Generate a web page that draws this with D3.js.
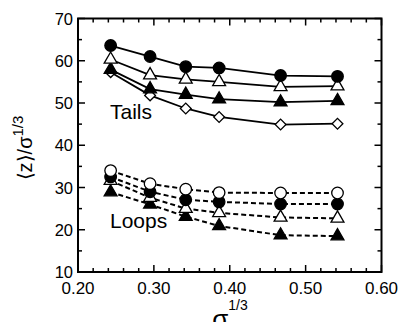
<!DOCTYPE html>
<html><head><meta charset="utf-8">
<script src="https://cdn.jsdelivr.net/npm/d3@7"></script>
<style>body{margin:0;background:#fff}svg{display:block}text{font-family:"Liberation Sans",Arial,sans-serif;fill:#000}</style>
</head><body><svg id="c" width="400" height="322"></svg>
<script>
const sigma13 = [0.243, 0.295, 0.342, 0.386, 0.467, 0.542];
const tailsFilledCircle = [63.6, 61.0, 58.6, 58.3, 56.5, 56.3];
const tailsOpenTriangle = [60.3, 56.6, 55.6, 55.0, 53.8, 54.0];
const tailsFilledTriangle = [57.9, 53.3, 52.0, 50.9, 50.2, 50.5];
const tailsOpenDiamond = [57.3, 51.8, 48.7, 46.7, 44.9, 45.1];
const loopsOpenCircle = [34.0, 30.9, 29.6, 28.8, 28.7, 28.7];
const loopsFilledCircle = [32.5, 29.0, 27.1, 26.6, 26.1, 26.1];
const loopsOpenTriangle = [31.6, 27.6, 25.0, 24.0, 22.9, 22.7];
const loopsFilledTriangle = [28.9, 26.0, 23.1, 20.9, 18.7, 18.5];
const xTicks = [0.20, 0.30, 0.40, 0.50, 0.60];
const yTicks = [10, 20, 30, 40, 50, 60, 70];

const series = [
  {v: tailsOpenDiamond, m: "diamond", fill: "#fff", dash: null},
  {v: tailsFilledTriangle, m: "triangle", fill: "#000", dash: null},
  {v: tailsOpenTriangle, m: "triangle", fill: "#fff", dash: null},
  {v: tailsFilledCircle, m: "circle", fill: "#000", dash: null},
  {v: loopsFilledTriangle, m: "triangle", fill: "#000", dash: "5,3"},
  {v: loopsOpenTriangle, m: "triangle", fill: "#fff", dash: "5,3"},
  {v: loopsFilledCircle, m: "circle", fill: "#000", dash: "5,3"},
  {v: loopsOpenCircle, m: "circle", fill: "#fff", dash: "5,3"}
];

const L = 78, R = 381.5, T = 18.5, B = 272;
const x = d3.scaleLinear().domain([0.2, 0.6]).range([L, R]);
const y = d3.scaleLinear().domain([10, 70]).range([B, T]);
const svg = d3.select("#c");

const xMinor = d3.range(0.2, 0.6001, 0.02);
const yMinor = d3.range(10, 70.001, 5);
const tg = svg.append("g").attr("stroke", "#000").attr("stroke-width", 1.5);
xMinor.forEach(t => {
  const major = Math.abs(Math.round(t * 10) - t * 10) < 1e-6;
  const len = major ? 7 : 4;
  tg.append("line").attr("x1", x(t)).attr("x2", x(t)).attr("y1", B).attr("y2", B - len);
  tg.append("line").attr("x1", x(t)).attr("x2", x(t)).attr("y1", T).attr("y2", T + len);
});
yMinor.forEach(t => {
  const major = Math.abs(t % 10) < 1e-6;
  const len = major ? 7 : 4;
  tg.append("line").attr("y1", y(t)).attr("y2", y(t)).attr("x1", L).attr("x2", L + len);
  tg.append("line").attr("y1", y(t)).attr("y2", y(t)).attr("x1", R).attr("x2", R - len);
});

svg.append("rect").attr("x", L).attr("y", T).attr("width", R - L).attr("height", B - T)
  .attr("fill", "none").attr("stroke", "#000").attr("stroke-width", 2);

svg.append("g").selectAll("text").data(xTicks).join("text")
  .attr("x", d => x(d)).attr("y", 294).attr("text-anchor", "middle")
  .attr("font-size", 17).text(d => d.toFixed(2));
svg.append("g").selectAll("text").data(yTicks).join("text")
  .attr("x", 73).attr("y", d => y(d) + 6).attr("text-anchor", "end")
  .attr("font-size", 16.5).text(d => d);

const line = d3.line().x((d, i) => x(sigma13[i])).y(d => y(d));
series.forEach(s => {
  svg.append("path").attr("d", line(s.v)).attr("fill", "none").attr("stroke", "#000")
    .attr("stroke-width", s.dash ? 2 : 1.8).attr("stroke-dasharray", s.dash);
});

const sym = {
  circle: d3.symbol().type(d3.symbolCircle).size(105),
  triangle: d3.symbol().type(d3.symbolTriangle).size(72),
  diamond: d3.symbol().type(d3.symbolSquare).size(58)
};
series.forEach(s => {
  svg.append("g").selectAll("path").data(s.v).join("path")
    .attr("d", sym[s.m]())
    .attr("transform", (d, i) => `translate(${x(sigma13[i])},${y(d)})` + (s.m === "diamond" ? " rotate(45)" : ""))
    .attr("fill", s.fill).attr("stroke", "#000").attr("stroke-width", 1.3);
});

svg.append("text").attr("x", 110).attr("y", 119).attr("font-size", 21).text("Tails");
svg.append("text").attr("x", 110).attr("y", 228).attr("font-size", 21).text("Loops");

const yt = svg.append("text").attr("transform", "translate(32,148) rotate(-90)")
  .attr("text-anchor", "middle").attr("font-size", 20);
yt.append("tspan").text("\u27E8z\u27E9/\u03C3");
yt.append("tspan").attr("font-size", 15).attr("dy", -9).text("1/3");

const xt = svg.append("text").attr("x", 230).attr("y", 328).attr("text-anchor", "middle").attr("font-size", 26);
xt.append("tspan").text("\u03C3");
xt.append("tspan").attr("font-size", 14).attr("dy", -18).text("1/3");
</script></body></html>
